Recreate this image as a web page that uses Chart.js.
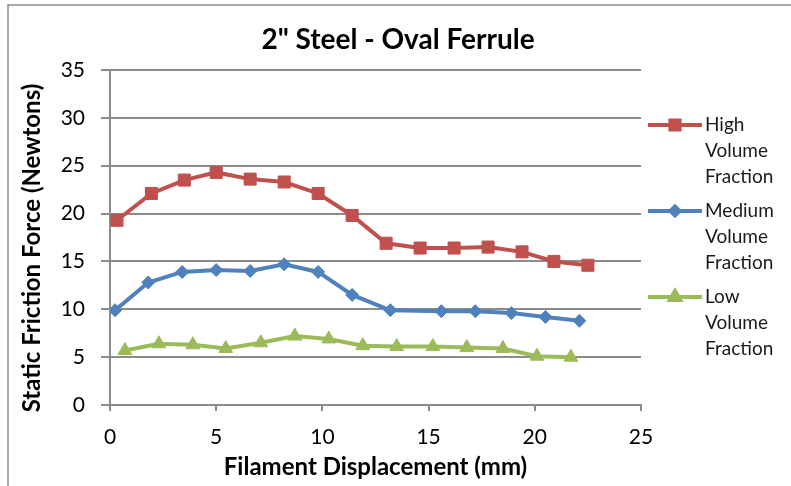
<!DOCTYPE html>
<html>
<head>
<meta charset="utf-8">
<script src="https://cdn.jsdelivr.net/npm/chart.js@4/dist/chart.umd.min.js"></script>
<style>
  html, body { margin: 0; padding: 0; background: #fff; }
  #wrap { width: 791px; height: 486px; position: relative; }
</style>
</head>
<body>
<div id="wrap"><canvas id="chart" width="791" height="486"></canvas></div>
<script>
// values
const titleText = '2" Steel - Oval Ferrule';
const yTitle = 'Static Friction Force (Newtons)';
const seriesNames = [['High', 'Volume', 'Fraction'], ['Medium', 'Volume', 'Fraction'], ['Low', 'Volume', 'Fraction']];

const highX = [0.33, 1.95, 3.5, 5.0, 6.6, 8.2, 9.8, 11.4, 13.0, 14.6, 16.2, 17.8, 19.4, 20.9, 22.5];
const highY = [19.3, 22.1, 23.5, 24.3, 23.6, 23.3, 22.1, 19.8, 16.9, 16.4, 16.4, 16.5, 16.0, 15.0, 14.6];

const medX = [0.24, 1.8, 3.4, 5.0, 6.6, 8.2, 9.8, 11.4, 13.2, 15.6, 17.2, 18.9, 20.5, 22.1];
const medY = [9.9, 12.8, 13.9, 14.1, 14.0, 14.7, 13.9, 11.5, 9.9, 9.8, 9.8, 9.6, 9.2, 8.8];

const lowX = [0.7, 2.3, 3.9, 5.45, 7.1, 8.7, 10.3, 11.9, 13.5, 15.2, 16.8, 18.5, 20.1, 21.7];
const lowY = [5.7, 6.4, 6.3, 5.9, 6.5, 7.2, 6.9, 6.2, 6.1, 6.1, 6.0, 5.9, 5.1, 5.0];

const xTicks = [0, 5, 10, 15, 20, 25];
const yTicks = [0, 5, 10, 15, 20, 25, 30, 35];

function pts(xs, ys) { return xs.map((x, i) => ({ x: x, y: ys[i] })); }

const gridColor = '#8c8c8c';
const FONT = 'Lato, "Liberation Sans", sans-serif';

const frameAndText = {
    id: 'frameAndText',
    afterDraw(chart) {
        const ctx = chart.ctx;
        ctx.save();
        // outer frame
        ctx.strokeStyle = '#8c8c8c';
        ctx.lineWidth = 1.5;
        ctx.beginPath();
        ctx.moveTo(8, 486);
        ctx.lineTo(8, 5);
        ctx.lineTo(791, 5);
        ctx.stroke();

        // title
        ctx.fillStyle = '#000';
        ctx.font = 'bold 28px ' + FONT;
        ctx.textAlign = 'center';
        ctx.textBaseline = 'middle';
        ctx.fillText(titleText, 398, 40);

        // y axis title
        ctx.save();
        ctx.translate(32, 248);
        ctx.rotate(-Math.PI / 2);
        ctx.font = 'bold 24px ' + FONT;
        ctx.fillText(yTitle, 0, 0);
        ctx.restore();

        // legend
        const tops = [125, 211, 297];
        chart.data.datasets.forEach((ds, i) => {
            const y = tops[i];
            ctx.strokeStyle = ds.borderColor;
            ctx.lineWidth = 4;
            ctx.beginPath();
            ctx.moveTo(648, y);
            ctx.lineTo(702, y);
            ctx.stroke();
            ctx.fillStyle = ds.pointBackgroundColor;
            ctx.strokeStyle = ds.pointBorderColor;
            Chart.helpers.drawPoint(ctx, {
                pointStyle: ds.pointStyle, radius: ds.pointRadius - 2, rotation: 0, borderWidth: 1
            }, 675, y);
            ctx.fillStyle = '#1a1a1a';
            ctx.font = '19px ' + FONT;
            ctx.textAlign = 'left';
            ctx.textBaseline = 'middle';
            seriesNames[i].forEach((t, k) => ctx.fillText(t, 705, y + k * 26));
        });
        ctx.restore();
    }
};

new Chart(document.getElementById('chart'), {
    type: 'line',
    data: {
        datasets: [
            { label: 'High Volume Fraction', data: pts(highX, highY), borderColor: '#C0504D',
              pointBackgroundColor: '#C0504D', pointBorderColor: '#C0504D', pointStyle: 'rect', pointRadius: 8.5 },
            { label: 'Medium Volume Fraction', data: pts(medX, medY), borderColor: '#4F81BD',
              pointBackgroundColor: '#4F81BD', pointBorderColor: '#4F81BD', pointStyle: 'rectRot', pointRadius: 6.5 },
            { label: 'Low Volume Fraction', data: pts(lowX, lowY), borderColor: '#9BBB59',
              pointBackgroundColor: '#9BBB59', pointBorderColor: '#9BBB59', pointStyle: 'triangle', pointRadius: 8 }
        ]
    },
    options: {
        responsive: false,
        animation: false,
        layout: { padding: { left: 10, right: 150, top: 70, bottom: 0 } },
        elements: {
            line: { borderWidth: 4, tension: 0 },
            point: { borderWidth: 1, hoverRadius: 8 }
        },
        scales: {
            x: {
                type: 'linear', min: 0, max: 25,
                afterBuildTicks: s => { s.ticks = xTicks.map(v => ({ value: v })); },
                afterFit: s => { s.height = 81; },
                grid: { drawOnChartArea: false, drawTicks: true, tickLength: 6, color: gridColor, lineWidth: 2 },
                border: { color: gridColor, width: 2 },
                ticks: { color: '#000', font: { family: FONT, size: 21 }, padding: 14, maxRotation: 0 },
                title: { display: true, text: 'Filament Displacement (mm)', color: '#000',
                         font: { family: FONT, size: 24, weight: 'bold' }, padding: { top: 0, bottom: 4 } }
            },
            y: {
                min: 0, max: 35,
                afterBuildTicks: s => { s.ticks = yTicks.map(v => ({ value: v })); },
                afterFit: s => { s.width = 100; },
                grid: { color: gridColor, lineWidth: 2, tickLength: 9 },
                border: { color: gridColor, width: 2 },
                ticks: { color: '#000', font: { family: FONT, size: 21 }, padding: 16 },
                title: { display: false }
            }
        },
        plugins: { legend: { display: false }, tooltip: { enabled: false } }
    },
    plugins: [frameAndText]
});
</script>
</body>
</html>
